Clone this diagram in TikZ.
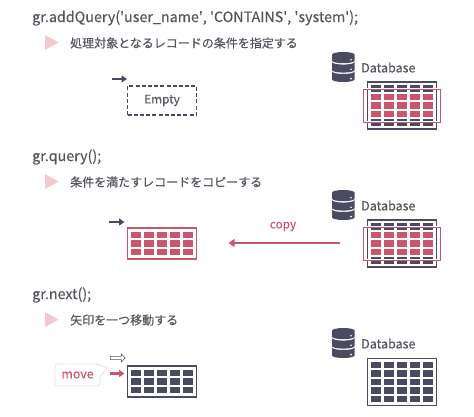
\documentclass[tikz,border=0pt]{standalone}
\usepackage{fontspec}
\setmainfont[FakeBold=0.25, AutoFakeBold=0.25]{Noto Sans CJK JP}
\usepackage{xcolor}
\usetikzlibrary{arrows.meta, positioning, calc, shapes.arrows}
\definecolor{inkOne}{HTML}{4A4A60}
\definecolor{inkTwo}{HTML}{55555F}
\definecolor{redOne}{HTML}{C9566B}
\definecolor{pinkOne}{HTML}{F2C9CC}
\definecolor{pinkTwo}{HTML}{F4DCDD}
\tikzset{
  title/.style={font=\fontsize{14.3}{16}\bfseries, text=inkTwo, anchor=west, inner sep=0pt},
  desc/.style={font=\fontsize{12}{14}\bfseries, text=inkTwo, anchor=west, inner sep=0pt},
  dbname/.style={font=\fontsize{12.5}{14}\bfseries, text=inkTwo, anchor=west, inner sep=0pt},
  tri/.style={fill=pinkOne, draw=none},
  tblbox/.style={draw=#1, line width=1.6pt, fill=white, minimum width=69pt, inner sep=0pt},
  cellbox/.style={fill=#1, draw=none, minimum width=10.6pt, minimum height=6.5pt, inner sep=0pt},
  hitbox/.style={draw=redOne, line width=1pt, minimum width=77pt, minimum height=33pt, inner sep=0pt},
  ptr/.style={-{Triangle[length=5.5pt, width=7pt]}, line width=2.2pt},
  disk/.style={fill=inkOne, draw=none},
}
\begin{document}
\begin{tikzpicture}[x=1pt, y=-1pt]
  \useasboundingbox (0,0) rectangle (474,416);
  % ---- the three steps: code line, triangle, description
  \foreach \n/\y/\code/\txt in {
      a/18/{gr.addQuery(\textquotesingle user\_name\textquotesingle, \textquotesingle CONTAINS\textquotesingle, \textquotesingle system\textquotesingle);}/処理対象となるレコードの条件を指定する,
      b/157/{gr.query();}/条件を満たすレコードをコピーする,
      c/295/{gr.next();}/矢印を一つ移動する} {
    \node[title] (code\n) at (32,\y) {\code};
    \node[desc] (desc\n) at (70,\y+25) {\txt};
    \fill[tri] (45,\y+17) -- (58.5,\y+24.5) -- (45,\y+32) -- cycle;
  }
  % ---- database icons
  \foreach \n/\y in {a/52, b/190, c/328} {
    \foreach \t/\b/\e in {2.6/8.6/360, 10/18/0, 19.4/27.4/0} {
      \fill[disk] (332,\y+\t) arc[start angle=180, end angle=\e, x radius=11.3, y radius=2.6]
        -- (354.6,\y+\b) arc[start angle=0, end angle=180, x radius=11.3, y radius=2.6] -- cycle;
      \fill[white] (351,\y+\b-0.8) circle[radius=0.9];
    }
    \node[dbname] (dbname\n) at (361,\y+15.5) {Database};
  }
  % ---- tables, outer box then cells
  \foreach \n/\cx/\cy/\h/\nr/\ink in {
      dba/402/105.5/47/5/inkOne, dbb/402/243.5/47/5/inkOne, dbc/402/382/47/5/inkOne,
      tbb/162/243.5/30.5/3/redOne, tbc/162/381.5/30.5/3/inkOne} {
    \node[tblbox=\ink, minimum height=\h pt] (\n) at (\cx,\cy) {};
    \foreach \r in {1,...,\nr} {
      \foreach \c in {1,...,5} {
        \node[cellbox=\ink] (\n-\r-\c) at ({\cx+(\c-3)*13},{\cy+(\r-(\nr+1)/2)*8.6}) {};
      }
    }
  }
  % ---- matching rows in the database
  \foreach \n/\cx/\cy in {dba/402/105.5, dbb/402/243.5} {
    \foreach \r in {2,3,4} {
      \foreach \c in {1,...,5} {
        \node[cellbox=redOne] (\n-hit-\r-\c) at ({\cx+(\c-3)*13},{\cy+(\r-3)*8.6}) {};
      }
    }
    \node[hitbox, draw=white, line width=2.4pt] (\n-halo) at (\cx,\cy) {};
    \node[hitbox] (\n-hit) at (\cx,\cy) {};
  }
  % ---- empty record set
  \node[draw=inkOne, line width=1.5pt, dash pattern=on 4pt off 2.2pt, minimum width=69pt, minimum height=29pt,
    font=\fontsize{11.8}{14}\bfseries, text=inkTwo] (tba) at (162,100.5) {Empty};
  % ---- pointers
  \coordinate (ptra) at (112,79);
  \coordinate (ptraend) at (127,79);
  \draw[ptr, inkOne] (ptra) -- (ptraend);
  \coordinate (ptrb) at (109,222);
  \coordinate (ptrbend) at (124.5,222);
  \draw[ptr, inkOne] (ptrb) -- (ptrbend);
  \coordinate (ptrc) at (109.5,373.5);
  \coordinate (ptrcend) at (124.5,373.5);
  \draw[ptr, redOne] (ptrc) -- (ptrcend);
  \node[single arrow, draw=inkTwo, fill=white, line width=0.6pt, minimum width=8pt, minimum height=15pt,
    single arrow head extend=1.6pt, inner sep=0.8pt] (ptrold) at (117,358) {};
  % ---- copy
  \coordinate (copyfrom) at (340,243);
  \coordinate (copyto) at (228.5,243);
  \draw[-{Triangle[length=6pt, width=8pt]}, draw=redOne, fill=redOne, line width=1.9pt] (copyfrom) -- (copyto);
  \node[font=\fontsize{11.8}{14}\bfseries, text=redOne] (copylabel) at (283,226.5) {copy};
  % ---- move callout
  \node[draw=pinkTwo, line width=0.8pt, rounded corners=3pt, fill=white, minimum width=45pt, minimum height=22pt,
    font=\fontsize{12.4}{14}\bfseries, text=redOne] (movelabel) at (77.5,375) {move};
  \fill[white] (96,365) -- (107.5,367.5) -- (100,377) -- cycle;
  \draw[pinkTwo, line width=0.8pt] (96,364) -- (107.5,367.5) -- (100,377);
\end{tikzpicture}
\end{document}
